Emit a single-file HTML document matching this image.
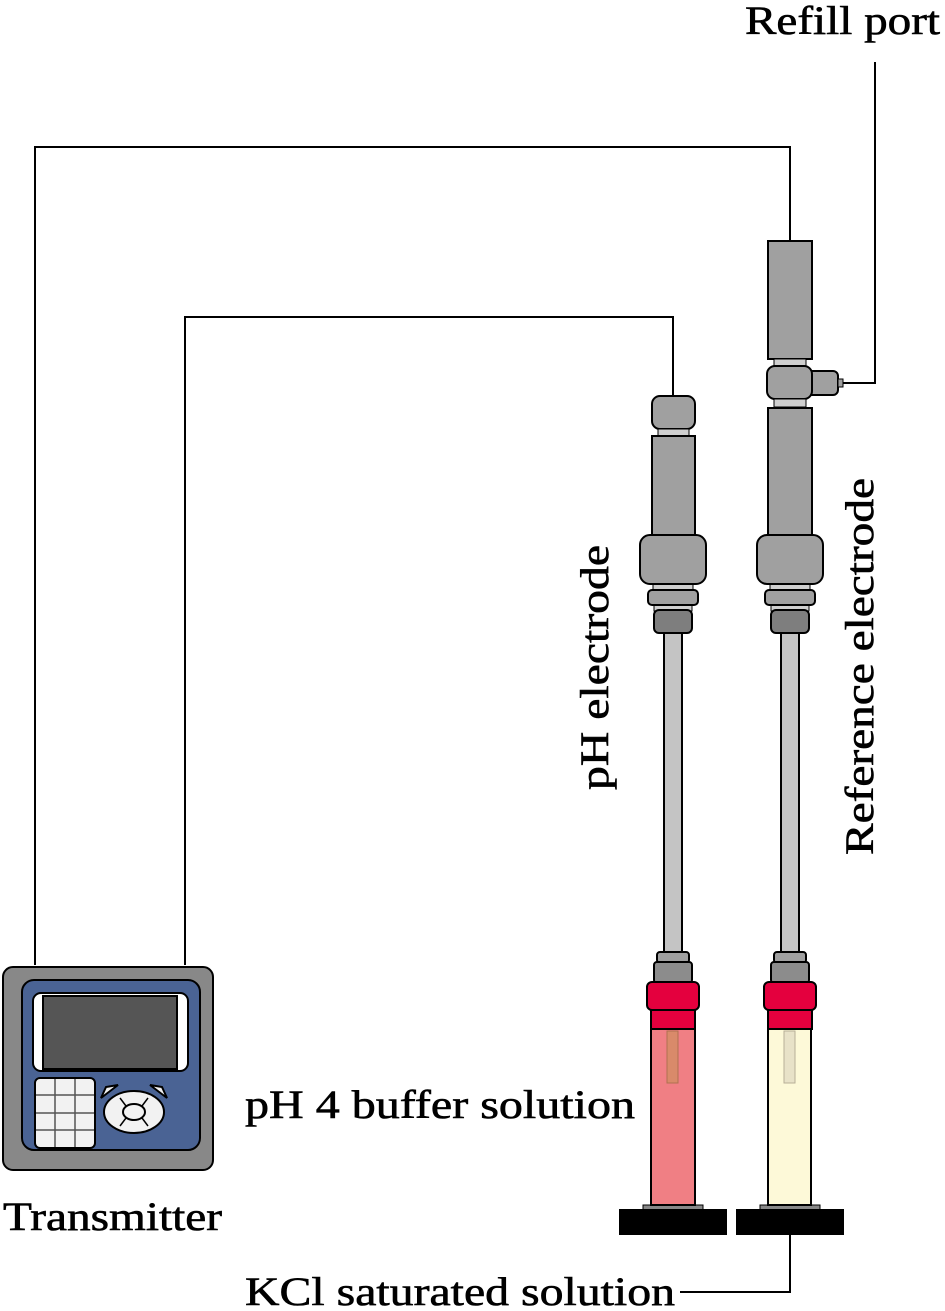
<!DOCTYPE html>
<html><head><style>
html,body{margin:0;padding:0;background:#fff}
svg{display:block}
text{font-family:"Liberation Serif",serif;fill:#000;stroke:#000;stroke-width:0.6}
</style></head><body>
<svg width="945" height="1311" viewBox="0 0 945 1311" xmlns="http://www.w3.org/2000/svg">
<g fill="none" stroke="#000" stroke-width="2">
<polyline points="35,965 35,147 790,147 790,242"/>
<polyline points="185,965 185,317 673,317 673,398"/>
<polyline points="875,62 875,383 842,383"/>
<polyline points="790,1234 790,1292 680,1292"/>
</g>
<text x="745" y="34" font-size="40" textLength="195" lengthAdjust="spacingAndGlyphs">Refill port</text>
<text x="3" y="1230" font-size="40" textLength="219" lengthAdjust="spacingAndGlyphs">Transmitter</text>
<text x="245" y="1118" font-size="40" textLength="390" lengthAdjust="spacingAndGlyphs">pH 4 buffer solution</text>
<text x="245" y="1305" font-size="40" textLength="430" lengthAdjust="spacingAndGlyphs">KCl saturated solution</text>
<text transform="translate(608,790) rotate(-90)" font-size="40" textLength="245" lengthAdjust="spacingAndGlyphs">pH electrode</text>
<text transform="translate(873,855) rotate(-90)" font-size="40" textLength="377" lengthAdjust="spacingAndGlyphs">Reference electrode</text>

<g stroke="#000" stroke-width="2">
<rect x="768" y="241" width="44" height="118" fill="#a0a0a0"/>
<rect x="774" y="359" width="32" height="8" fill="#cfcfcf" stroke-width="1"/>
<rect x="806" y="371" width="32" height="24" rx="5" fill="#a0a0a0"/>
<rect x="838" y="379" width="5" height="8" fill="#a0a0a0" stroke-width="1"/>
<rect x="767" y="366" width="45" height="33" rx="8" fill="#a0a0a0"/>
<rect x="774" y="399" width="32" height="8" fill="#cfcfcf" stroke-width="1"/>
<rect x="768" y="408" width="44" height="128" fill="#a0a0a0"/>
</g>
<g stroke="#000" stroke-width="2">
<rect x="652" y="396" width="43" height="33" rx="8" fill="#a0a0a0"/>
<rect x="658" y="429" width="31" height="7" fill="#cfcfcf" stroke-width="1"/>
<rect x="652" y="436" width="43" height="100" fill="#a0a0a0"/>
</g>

<defs>
<g id="low" stroke="#000" stroke-width="2">
<rect x="-9" y="630" width="18" height="323" fill="#c4c4c4"/>
<rect x="-20" y="583" width="40" height="8" fill="#cfcfcf" stroke-width="1"/>
<rect x="-33" y="535" width="66" height="49" rx="10" fill="#a0a0a0"/>
<rect x="-19" y="603" width="38" height="8" fill="#cfcfcf" stroke-width="1"/>
<rect x="-25" y="590" width="50" height="15" rx="4" fill="#a0a0a0"/>
<rect x="-19" y="610" width="38" height="23" rx="5" fill="#7e7e7e"/>
<rect x="-16" y="952" width="32" height="11" rx="3" fill="#a0a0a0"/>
<rect x="-19" y="962" width="38" height="21" rx="3" fill="#8c8c8c"/>
<rect x="-22" y="1009" width="44" height="20" fill="#e4003e"/>
<rect x="-26" y="982" width="52" height="28" rx="5" fill="#e4003e"/>
<rect x="-30" y="1205" width="60" height="7" fill="#888" stroke-width="1"/>
<rect x="-53" y="1210" width="106" height="24" fill="#000"/>
</g>
</defs>
<use href="#low" transform="translate(673,0)"/>
<use href="#low" transform="translate(790,0)"/>
<g stroke="#000" stroke-width="2">
<rect x="651" y="1029" width="44" height="176" fill="#f07f84"/>
<rect x="667" y="1031" width="11" height="52" fill="#d98a6a" stroke="#b07050" stroke-width="1"/>
<rect x="768" y="1029" width="43" height="176" fill="#fdf9d8"/>
<rect x="784" y="1031" width="11" height="52" fill="#e8e2c8" stroke="#b8b098" stroke-width="1"/>
</g>

<g stroke="#000" stroke-width="2">
<rect x="3" y="967" width="210" height="203" rx="10" fill="#888"/>
<rect x="22" y="980" width="178" height="170" rx="12" fill="#4a6394"/>
<rect x="33" y="993" width="155" height="78" rx="8" fill="#fff"/>
<rect x="43" y="996" width="134" height="73" fill="#555"/>
<rect x="35" y="1078" width="60" height="70" rx="5" fill="#f2f2f2"/>
<g stroke="#555" stroke-width="1.5">
<line x1="55" y1="1079" x2="55" y2="1147"/><line x1="75" y1="1079" x2="75" y2="1147"/>
<line x1="36" y1="1095" x2="94" y2="1095"/><line x1="36" y1="1113" x2="94" y2="1113"/><line x1="36" y1="1130" x2="94" y2="1130"/>
</g>
<ellipse cx="134" cy="1112" rx="30" ry="21" fill="#f2f2f2"/>
<ellipse cx="134" cy="1112" rx="11" ry="8" fill="#f2f2f2"/>
<line x1="120" y1="1098" x2="126" y2="1106" stroke-width="1.5"/>
<line x1="148" y1="1098" x2="142" y2="1106" stroke-width="1.5"/>
<line x1="120" y1="1126" x2="126" y2="1118" stroke-width="1.5"/>
<line x1="148" y1="1126" x2="142" y2="1118" stroke-width="1.5"/>
<path d="M101,1098 L106,1087 L118,1085 Z" fill="#f2f2f2"/>
<path d="M167,1098 L162,1087 L150,1085 Z" fill="#f2f2f2"/>
</g>
</svg>
</body></html>
